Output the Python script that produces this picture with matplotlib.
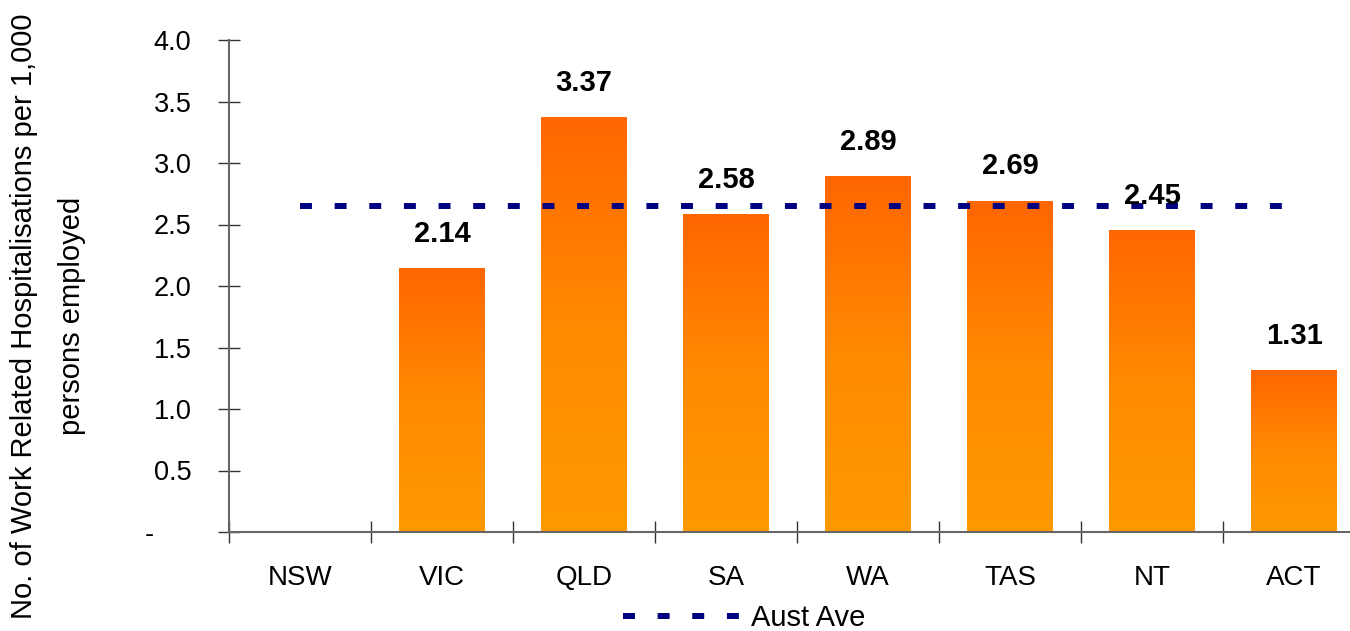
import numpy as np
import matplotlib
matplotlib.use('Agg')
import matplotlib.pyplot as plt
from matplotlib.colors import LinearSegmentedColormap
from matplotlib.lines import Line2D

plt.rcParams['font.family'] = ['Liberation Sans', 'DejaVu Sans']

# data
states = ['NSW', 'VIC', 'QLD', 'SA', 'WA', 'TAS', 'NT', 'ACT']
rates = [np.nan, 2.14, 3.37, 2.58, 2.89, 2.69, 2.45, 1.31]
aust_ave = 2.65
yticks = [0, 0.5, 1.0, 1.5, 2.0, 2.5, 3.0, 3.5, 4.0]
ytick_labels = ['-     ', '0.5', '1.0', '1.5', '2.0', '2.5', '3.0', '3.5', '4.0']

fig = plt.figure(figsize=(13.5, 6.31), dpi=100)
ax = fig.add_axes([229/1350, 99/631, 1136/1350, 492/631])

x = np.arange(len(states))
width = 0.6
cmap = LinearSegmentedColormap.from_list('orng', ['#FF9A00', '#FF8A00', '#FF6600'])
grad = np.linspace(0, 1, 256).reshape(-1, 1)

# bars with vertical gradient fill
for xi, v in zip(x, rates):
    if np.isnan(v):
        continue
    ax.imshow(grad, extent=[xi - width/2, xi + width/2, 0, v], origin='lower',
              aspect='auto', cmap=cmap, zorder=2)
    ax.annotate(f'{v:.2f}', (xi, v), xytext=(0, 15), textcoords='offset points',
                ha='center', va='bottom', fontsize=21, fontweight='bold', zorder=5)

# Australian average line
ax.plot([x[0], x[-1]], [aust_ave, aust_ave], color='#000080', lw=4.3,
        dashes=(2, 3.8), solid_capstyle='butt', dash_capstyle='butt', zorder=3)

ax.set_xlim(-0.5, len(states) - 0.5)
ax.set_ylim(0, 4.0)

ax.set_yticks(yticks)
ax.set_yticklabels(ytick_labels, fontsize=19.5)
ax.set_xticks(x)
ax.set_xticklabels(states, fontsize=20)
ax.set_xticks(np.arange(-0.5, len(states), 1), minor=True)
ax.tick_params(axis='x', which='major', length=0, pad=24)
ax.tick_params(axis='x', which='minor', direction='inout', length=16, width=1, color='#333333')
ax.tick_params(axis='y', direction='inout', length=16, width=1, color='#333333', pad=19)

for s in ['top', 'right']:
    ax.spines[s].set_visible(False)
for s in ['left', 'bottom']:
    ax.spines[s].set_color('#666666')
    ax.spines[s].set_linewidth(1.5)

fig.text(48/1350, 1 - 316/631,
         'No. of Work Related Hospitalisations per 1,000\npersons employed',
         rotation=90, ha='center', va='center', fontsize=21, linespacing=1.9,
         multialignment='center')

handle = Line2D([], [], color='#000080', lw=4.3, dashes=(2, 3.8), dash_capstyle='butt')
fig.legend([handle], ['Aust Ave'], loc='center', bbox_to_anchor=(744/1350, 1 - 618/631),
           frameon=False, fontsize=21, handlelength=4.2, handletextpad=0.2,
           borderpad=0)

fig.savefig('out.png', dpi=100)
